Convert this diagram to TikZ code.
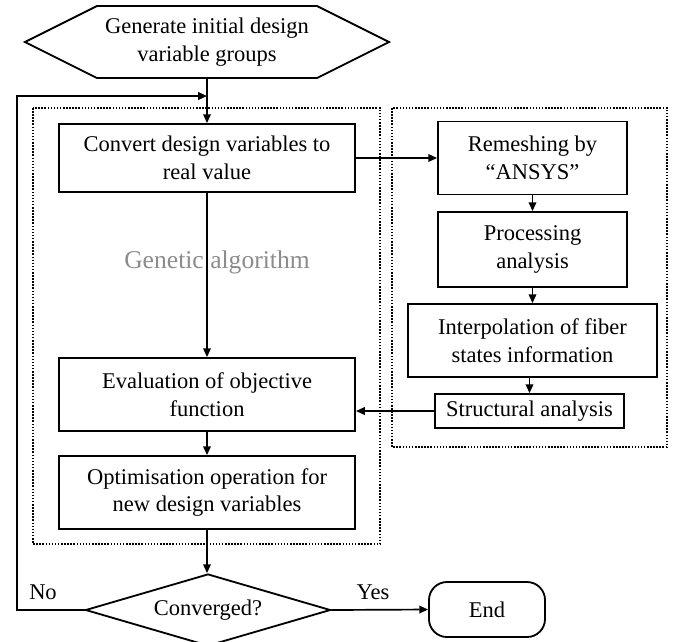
\documentclass[tikz,border=0pt]{standalone}
\usepackage{fontspec}
\setmainfont{Liberation Serif}
\usepackage{tikz}
\usetikzlibrary{calc,arrows.meta,shapes.geometric,shapes.symbols}

\tikzset{
  box/.style={draw, line width=1.3pt, inner sep=0pt, align=center},
  arr/.style={line width=1.2pt, -{Triangle[length=0.22cm,width=0.19cm]}},
  frame/.style={line width=1pt, dash pattern=on 1.1pt off 1.1pt},
}

\begin{document}
\begin{tikzpicture}[x=0.025cm, y=-0.025cm, font=\fontsize{16}{19.8}\selectfont]
		%%%%% START %%%%%
		\useasboundingbox (0, 0) rectangle (688, 641);
		
		\draw[frame] (33, 108) rectangle (380, 544);
		\draw[frame] (392, 108) rectangle (667, 447);
		
		\node (ga) at (217, 262) [text=black!45, font=\fontsize{18.2}{22}\selectfont] {Genetic algorithm};
		
		\node[box, signal, signal to=west and east, signal pointer angle=53.13, minimum width=9.1cm, minimum height=1.8cm] (gen) at (207, 42) {Generate initial design\\variable groups};
		
		\node[box, minimum width=7.4cm, minimum height=1.7cm] (conv) at (207, 158) {Convert design variables to\\real value};
		\node[box, minimum width=7.4cm, minimum height=1.825cm] (eval) at (207, 394.5) {Evaluation of objective\\function};
		\node[box, minimum width=7.4cm, minimum height=1.825cm] (opt) at (207, 492.5) {Optimisation operation for\\new design variables};
		\node[box, diamond, aspect=3.4, minimum width=6.125cm, minimum height=1.8cm] (dec) at (208, 610) {Converged?};
		\node[box, rounded corners=0.45cm, minimum width=2.9cm, minimum height=1.375cm] (end) at (487, 609.5) {End};
		
		\node[box, minimum width=4.725cm, minimum height=1.825cm] (remesh) at (532.5, 158) {Remeshing by\\``ANSYS''};
		\node[box, minimum width=4.725cm, minimum height=1.875cm] (proc) at (532.5, 249.5) {Processing\\analysis};
		\node[box, minimum width=6.225cm, minimum height=1.825cm] (interp) at (532.5, 340.5) {Interpolation of fiber\\states information};
		\node[box, minimum width=4.725cm, minimum height=0.85cm] (struct) at (529.5, 411) {Structural analysis};
		
		\node (no) at (43, 592) {No};
		\node (yes) at (373, 592) {Yes};
		
		\coordinate (back) at (17, 96);
		\coordinate (join) at (207, 96);
		
		\draw[arr] (gen.south) -- (conv.north);
		\draw[arr] (conv.south) -- (eval.north);
		\draw[arr] (eval.south) -- (opt.north);
		\draw[arr] (opt.south) -- (opt.south |- dec.north);
		\draw[arr] (dec.east) -- (end.west);
		\draw[arr] (dec.west) -| (back) -- (join);
		
		\draw[arr] (conv.east) -- (remesh.west);
		\draw[arr] (remesh.south) -- (proc.north);
		\draw[arr] (proc.south) -- (interp.north);
		\draw[arr] (interp.south -| struct.north) -- (struct.north);
		\draw[arr] (struct.west) -- (struct.west -| eval.east);
		%%%%% END %%%%%
\end{tikzpicture}
\end{document}
